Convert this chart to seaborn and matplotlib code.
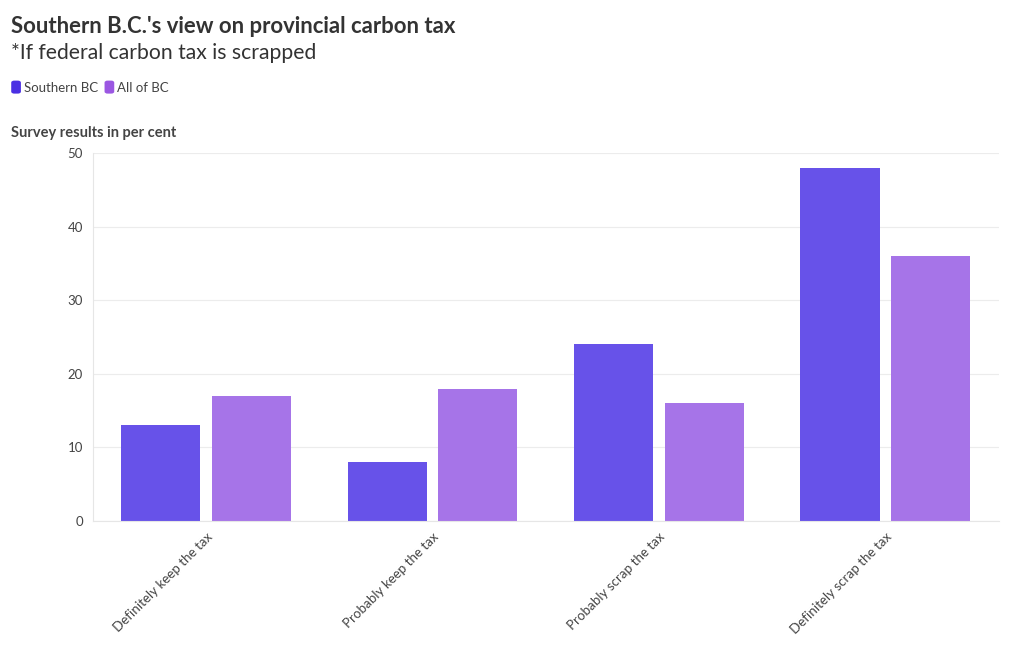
"""Southern B.C. carbon tax survey bar chart."""

import matplotlib.pyplot as plt
import pandas as pd
import seaborn as sns
from matplotlib.patches import FancyBboxPatch

categories = [
    "Definitely keep the tax",
    "Probably keep the tax",
    "Probably scrap the tax",
    "Definitely scrap the tax",
]
southern_bc = [13, 8, 24, 48]
all_of_bc = [17, 18, 16, 36]
series_names = ["Southern BC", "All of BC"]
bar_colors = ["#6752e9", "#a674e8"]
legend_colors = ["#4a2fe3", "#9b57e2"]
y_ticks = [0, 10, 20, 30, 40, 50]

frame = pd.DataFrame({
    "category": categories * 2,
    "series": [series_names[0]] * len(categories) + [series_names[1]] * len(categories),
    "value": southern_bc + all_of_bc,
})

sns.set_style("white")
plt.rcParams["font.family"] = ["Lato", "DejaVu Sans"]

fig = plt.figure(figsize=(10.2, 6.5), dpi=100)
ax = fig.add_axes([0.091, 0.1985, 0.888, 0.566])

sns.barplot(
    data=frame, x="category", y="value", hue="series",
    palette=bar_colors, width=0.8, gap=0.125, ax=ax, legend=False,
    saturation=1, edgecolor="none",
)

ax.set_xlim(-0.5, 3.5)
ax.set_ylim(0, 50)
ax.set_yticks(y_ticks)
ax.set_yticklabels([str(t) for t in y_ticks], fontsize=9.5, color="#444444")
ax.yaxis.grid(True, color="#ececec", linewidth=0.8)
ax.set_axisbelow(True)
ax.set_xlabel("")
ax.set_ylabel("")
ax.set_xticks(range(len(categories)))
ax.set_xticklabels(categories, rotation=45, ha="right", rotation_mode="anchor",
                   fontsize=9.6, color="#444444")
ax.tick_params(axis="x", length=4, color="#dddddd", pad=3)
ax.tick_params(axis="y", length=5, color="#e6e6e6", pad=2)
for side in ["top", "right"]:
    ax.spines[side].set_visible(False)
for side in ["left", "bottom"]:
    ax.spines[side].set_color("#e6e6e6")
    ax.spines[side].set_linewidth(0.8)

fig.text(0.011, 0.959, "Southern B.C.'s view on provincial carbon tax",
         fontsize=15.9, fontweight="bold", color="#333333", va="center")
fig.text(0.011, 0.919, "*If federal carbon tax is scrapped",
         fontsize=15.2, color="#333333", va="center")
fig.text(0.011, 0.796, "Survey results in per cent",
         fontsize=10.5, fontweight="bold", color="#444444", va="center")

# legend with rounded swatches
legend_x = [0.011, 0.1025]
for x0, name, color in zip(legend_x, series_names, legend_colors):
    fig.patches.append(FancyBboxPatch(
        (x0, 0.856), 0.0095, 0.02, boxstyle="round,pad=0,rounding_size=0.003",
        transform=fig.transFigure, facecolor=color, edgecolor="none"))
    fig.text(x0 + 0.0125, 0.865, name, fontsize=9.5, color="#444444", va="center")

fig.savefig("out.png", dpi=100)
